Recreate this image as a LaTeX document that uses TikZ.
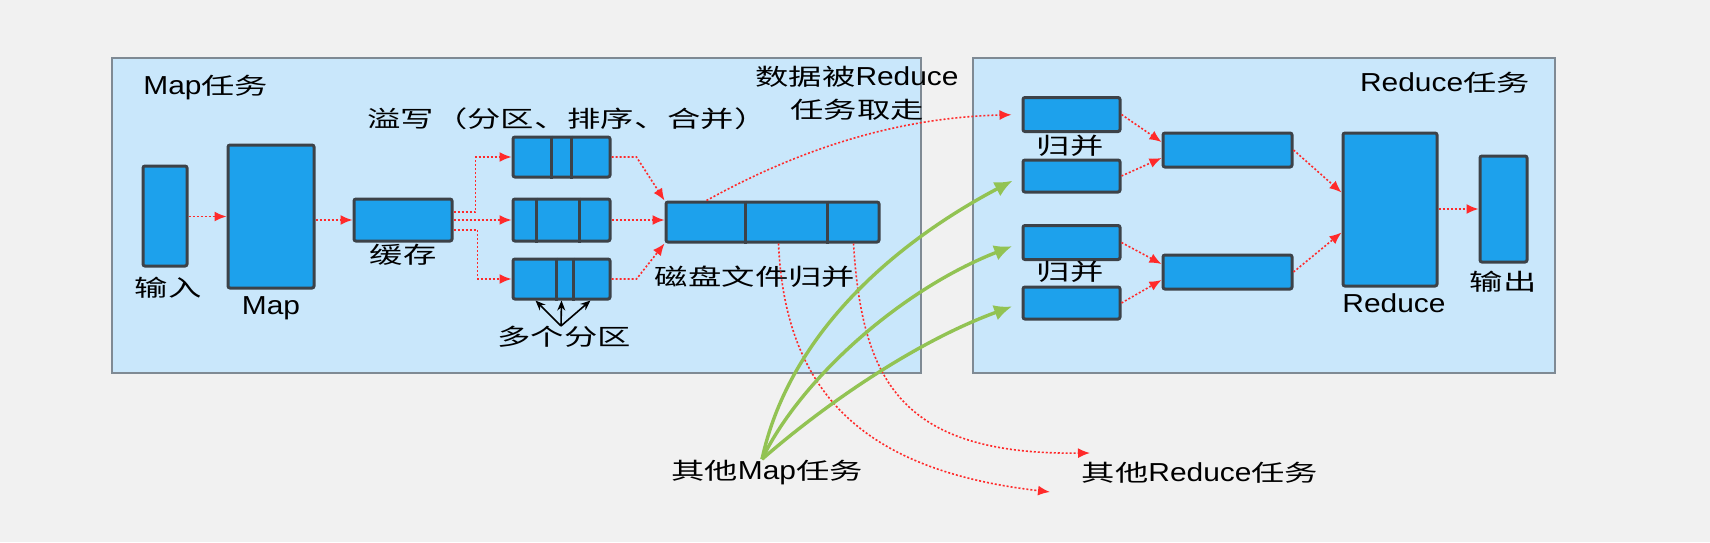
\documentclass[tikz,border=0pt]{standalone}
\usepackage{fontspec}
\setmainfont{Liberation Sans}[FakeStretch=1.15]
\newfontfamily\zhfont{Noto Sans CJK SC}[FakeStretch=1.45]
\newcommand{\zh}[1]{{\zhfont\fontsize{11.5pt}{16.5pt}\selectfont #1}}
\usetikzlibrary{arrows.meta,calc,positioning}

\definecolor{bggray}{HTML}{F1F1F1}
\definecolor{panelblue}{HTML}{C9E7FB}
\definecolor{paneledge}{HTML}{7F8A94}
\definecolor{boxblue}{HTML}{1DA1EC}
\definecolor{boxedge}{HTML}{3C4248}
\definecolor{flowred}{HTML}{FF2A2A}
\definecolor{leafgreen}{HTML}{92C353}

\begin{document}
\begin{tikzpicture}[x=0.5pt,y=-0.5pt,
    blk/.style={draw=boxedge, fill=boxblue, line width=1.5pt, rounded corners=1pt, inner sep=0pt},
    panel/.style={draw=paneledge, fill=panelblue, line width=0.7pt},
    flow/.style={flowred, line width=0.8pt, dash pattern=on 1pt off 1pt, -{Latex[length=6pt,width=5pt]}},
    feed/.style={leafgreen, line width=1.7pt, shorten >=5pt, -{Latex[length=9pt,width=8pt]}},
    lbl/.style={font=\fontsize{13pt}{16.5pt}\selectfont, inner sep=0pt}]

\fill[bggray] (0,0) rectangle (1710,542);
\useasboundingbox (0,0) rectangle (1710,542);

\draw[panel] (112,58) rectangle (921,373);
\draw[panel] (973,58) rectangle (1555,373);

% map side
\node[blk, minimum width=22pt, minimum height=50pt] (In) at (165,216) {};
\node[blk, minimum width=43pt, minimum height=71.5pt] (MapB) at (271,216.5) {};
\node[blk, minimum width=49pt, minimum height=21pt] (Cache) at (403,220) {};
\node[blk, minimum width=48.5pt, minimum height=20pt] (P1) at (561.5,157) {};
\node[blk, minimum width=48.5pt, minimum height=21pt] (P2) at (561.5,220) {};
\node[blk, minimum width=48.5pt, minimum height=20pt] (P3) at (561.5,279) {};
\node[blk, minimum width=106.5pt, minimum height=20pt] (D) at (772.5,222) {};

\foreach \n/\x in {P1/551,P1/571,P2/536,P2/579,P3/556,P3/573,D/745,D/827}
{
    \draw[boxedge, line width=1.5pt] (\x,0 |- \n.north) -- (\x,0 |- \n.south);
}

% reduce side
\node[blk, minimum width=48.5pt, minimum height=17pt] (R1) at (1071.5,114.5) {};
\node[blk, minimum width=48.5pt, minimum height=16pt] (R2) at (1071.5,176) {};
\node[blk, minimum width=48.5pt, minimum height=17pt] (R3) at (1071.5,242.5) {};
\node[blk, minimum width=48.5pt, minimum height=16pt] (R4) at (1071.5,303) {};
\node[blk, minimum width=64.5pt, minimum height=17pt] (M1) at (1227.5,150) {};
\node[blk, minimum width=64.5pt, minimum height=17pt] (M2) at (1227.5,272) {};
\node[blk, minimum width=47pt, minimum height=76.5pt] (Red) at (1390,209.5) {};
\node[blk, minimum width=23.5pt, minimum height=53pt] (Out) at (1503.5,209) {};

% labels
\node[lbl, anchor=west] (maptitle) at (143,88) {Map\zh{任务}};
\node[lbl, anchor=west] (spill) at (367,119) {\zh{溢写（分区、排序、合并）}};
\node[lbl, align=center] (fetch) at (857,93) {\zh{数据被}Reduce\\\zh{任务取走}};
\node[lbl] (inlbl) at (168,288) {\zh{输入}};
\node[lbl] (maplbl) at (271,308) {Map};
\node[lbl] (cachelbl) at (403,255) {\zh{缓存}};
\node[lbl] (partlbl) at (564,337) {\zh{多个分区}};
\node[lbl] (disklbl) at (755,277) {\zh{磁盘文件归并}};
\node[lbl] (redtitle) at (1445,83) {Reduce\zh{任务}};
\node[lbl] (merge1) at (1070,146) {\zh{归并}};
\node[lbl] (merge2) at (1070,272) {\zh{归并}};
\node[lbl] (redlbl) at (1394,303) {Reduce};
\node[lbl] (outlbl) at (1503,282) {\zh{输出}};
\node[lbl] (othermap) at (767,473) {\zh{其他}Map\zh{任务}};
\node[lbl] (otherred) at (1200,473) {\zh{其他}Reduce\zh{任务}};

\coordinate (gsrc) at ($(othermap.north)+(-5,-1)$);
\coordinate (ptop) at ($(partlbl.north)+(-3,0)$);
\coordinate (ra) at (1050,492);
\coordinate (rb) at (1090,453);

% red flow
\draw[flow] (In.east |- MapB) -- (MapB.west);
\draw[flow] (MapB.east |- Cache) -- (Cache.west);
\draw[flow] (Cache.east) ++(0,-8) -- ++(22,0) |- (P1.west);
\draw[flow] (Cache.east) -- (P2.west);
\draw[flow] (Cache.east) ++(0,10) -- ++(24,0) |- (P3.west);
\draw[flow] (P1.east) -- ++(25,0) -- (D.north west);
\draw[flow] (P2.east) -- (P2.east -| D.west);
\draw[flow] (P3.east) -- ++(25,0) -- (D.south west);

\draw[flow, shorten >=5pt] ($(D.north west)+(42,0)$) .. controls (780,160) and (880,118) .. (R1.west);
\draw[flow] ($(D.south west)+(114,0)$) .. controls (785,390) and (860,470) .. (ra);
\draw[flow] ($(D.south west)+(189,0)$) .. controls (862,380) and (900,455) .. (rb);

\draw[flow] (R1.east) -- ($(M1.west)+(0,-8)$);
\draw[flow] (R2.east) -- ($(M1.west)+(0,8)$);
\draw[flow] (R3.east) -- ($(M2.west)+(0,-8)$);
\draw[flow] (R4.east) -- ($(M2.west)+(0,8)$);
\draw[flow] (M1.east) -- ($(Red.west)+(0,-17)$);
\draw[flow] (M2.east) -- ($(Red.west)+(0,23)$);
\draw[flow] (Red.east |- Out) -- (Out.west);

% black arrows to partitions
\foreach \dx in {-26,0,29}
{
    \draw[line width=0.8pt, -{Stealth[length=5pt,width=4pt]}] (ptop) -- ($(P3.south)+(\dx,0)$);
}

% other map tasks
\draw[feed] (gsrc) .. controls (790,330) and (900,240) .. (R2.west);
\draw[feed] (gsrc) .. controls (800,380) and (900,290) .. (R3.west);
\draw[feed] (gsrc) .. controls (830,400) and (920,340) .. (R4.west);

\end{tikzpicture}
\end{document}
